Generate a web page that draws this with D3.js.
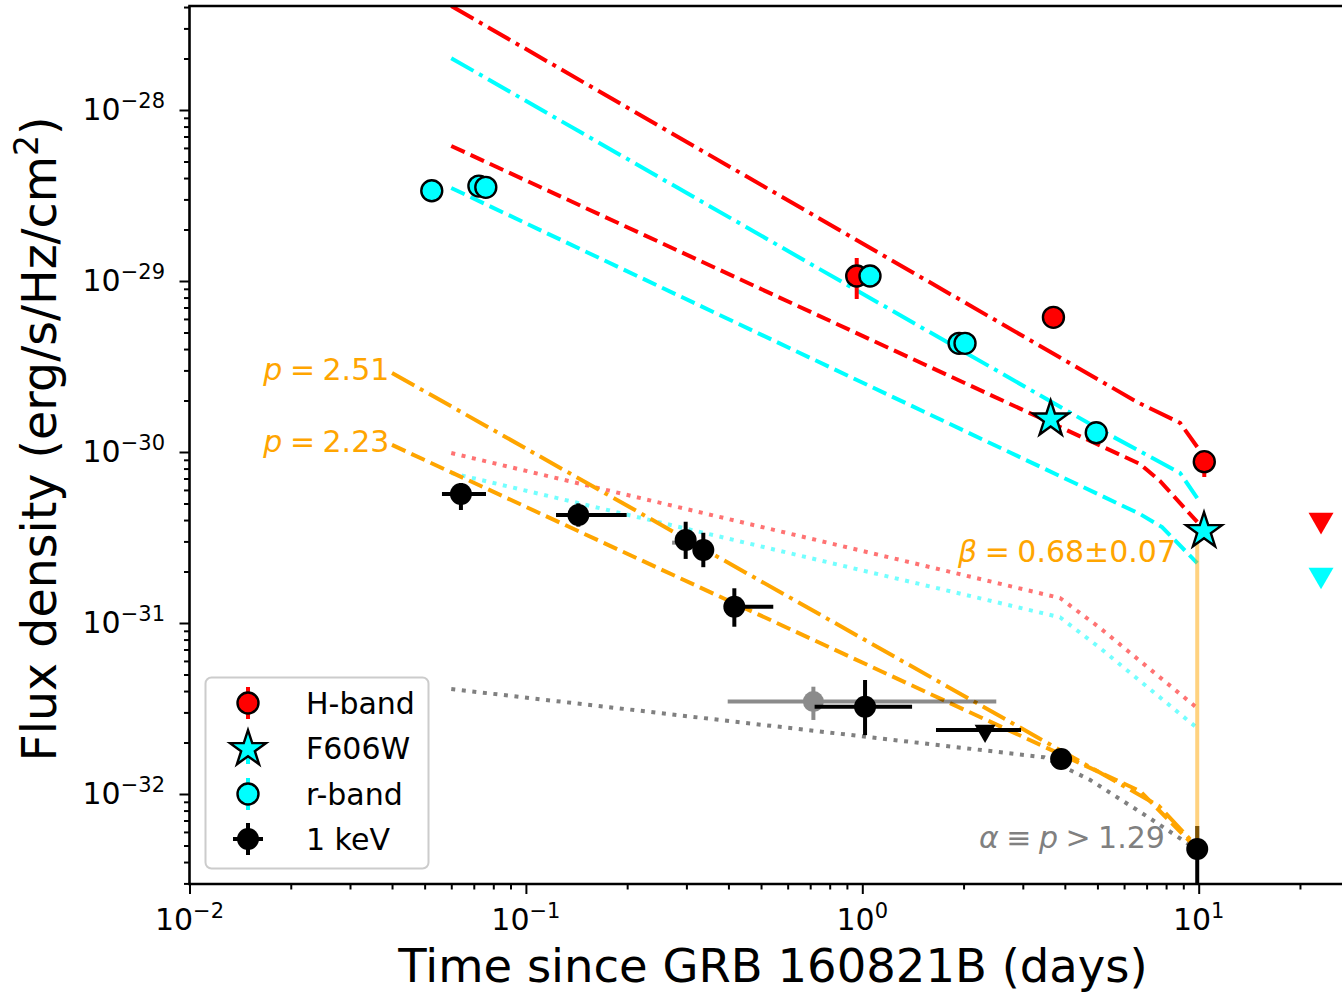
<!DOCTYPE html>
<html><head><meta charset="utf-8">
<script src="https://cdn.jsdelivr.net/npm/d3@7"></script>
<style>
body{margin:0;background:#fff}
svg{display:block}
text{font-family:"DejaVu Sans",sans-serif}
</style>
</head><body><svg id="c" width="1342" height="994"></svg>
<script>
// ---------------- data ----------------
const xTickExps = [-2, -1, 0, 1];
const yTickExps = [-28, -29, -30, -31, -32];
const legendLabels = ["H-band", "F606W", "r-band", "1 keV"];

// H-band detections
const hBandT   = [0.9625, 3.70, 10.39];
const hBandF   = [1.07e-29, 6.13e-30, 8.78e-31];
const hBandFLo = [7.85e-30, null, 7.14e-31];
const hBandFHi = [1.363e-29, null, 1.0e-30];
// H-band upper limit
const hLimT = [23.1];
const hLimF = [4.0e-31];

// F606W
const f606wT = [3.63, 10.37];
const f606wF = [1.574e-30, 3.50e-31];

// r-band
const rBandT = [0.0525, 0.0725, 0.0760, 1.054, 1.94, 2.02, 4.96];
const rBandF = [3.37e-29, 3.59e-29, 3.53e-29, 1.07e-29, 4.32e-30, 4.32e-30, 1.297e-30];
const rLimT = [23.1];
const rLimF = [1.91e-31];

// 1 keV X-ray
const xrT   = [0.0641, 0.1432, 0.2985, 0.3368, 0.4165, 1.019, 3.90, 9.9];
const xrF   = [5.68e-31, 4.28e-31, 3.06e-31, 2.67e-31, 1.245e-31, 3.24e-32, 1.602e-32, 4.77e-33];
const xrTLo = [0.0563, 0.1229, 0.2794, 0.325, 0.3908, 0.7215, 3.90, 9.9];
const xrTHi = [0.0761, 0.1993, 0.318, 0.348, 0.5437, 1.406, 3.90, 9.9];
const xrFLo = [4.58e-31, 3.66e-31, 2.37e-31, 2.12e-31, 9.51e-32, 2.21e-32, 1.602e-32, 1e-33];
const xrFHi = [6.59e-31, 5.01e-31, 3.91e-31, 3.37e-31, 1.596e-31, 4.64e-32, 1.602e-32, 6.50e-33];
// X-ray upper limit
const xrLimT = [2.317], xrLimF = [2.37e-32], xrLimTLo = [1.656], xrLimTHi = [2.964];
// faded (grey) X-ray points
const xgT = [0.7155, 0.29], xgF = [3.47e-32, 2.95e-31];
const xgTLo = [0.398, 0.272], xgTHi = [2.502, 0.305];
const xgFLo = [2.71e-32, 2.95e-31], xgFHi = [4.24e-32, 2.95e-31];

// model curves
const mHdashdotT = [0.06, 6.56, 8.80, 9.9];
const mHdashdotF = [4.06e-28, 1.96e-30, 1.48e-30, 1.07e-30];
const mRdashdotT = [0.06, 5.09, 8.80, 9.9];
const mRdashdotF = [2.01e-28, 1.35e-30, 7.54e-31, 5.38e-31];
const mHdashT = [0.06, 6.69, 7.67, 9.9];
const mHdashF = [6.16e-29, 8.51e-31, 6.77e-31, 3.90e-31];
const mRdashT = [0.06, 6.69, 7.78, 9.9];
const mRdashF = [3.50e-29, 4.34e-31, 3.64e-31, 2.24e-31];
const mHdotT = [0.06, 3.87, 5.09, 9.9];
const mHdotF = [9.86e-31, 1.40e-31, 9.35e-32, 3.18e-32];
const mRdotT = [0.06, 3.87, 5.09, 9.9];
const mRdotF = [7.54e-31, 1.08e-31, 7.14e-32, 2.43e-32];
const mXdotT = [0.06, 3.47, 4.75, 7.04, 9.42];
const mXdotF = [4.11e-32, 1.64e-32, 1.21e-32, 7.37e-33, 5.03e-33];
const mXdashdotT = [0.04, 7.62, 9.9];
const mXdashdotF = [2.90e-30, 8.51e-33, 4.90e-33];
const mXdashT = [0.04, 6.69, 9.9];
const mXdashF = [1.10e-30, 1.041e-32, 4.77e-33];
// spectral-index connector
const betaT = [9.9, 9.9];
const betaF = [3.50e-31, 4.77e-33];

// annotations
const annP1 = {t: 0.039, f: 2.90e-30, p: "2.51"};
const annP2 = {t: 0.039, f: 1.10e-30, p: "2.23"};

// ---------------- chart ----------------
const RED = "#ff0000", CYAN = "#00ffff", ORANGE = "#ffa500", GREY = "#808080";
const svg = d3.select("#c");
const x = d3.scaleLog().domain([1e-2, 10]).range([189.5, 1198.7]);
const y = d3.scaleLog().domain([1e-32, 1e-28]).range([794, 110]);
const plotTop = 6, plotBot = 884, plotL = 189.5, plotR = 1400;
const MR = 10.5, MSW = 2.4;

svg.append("defs").append("clipPath").attr("id", "clip")
  .append("rect").attr("x", plotL).attr("y", plotTop).attr("width", plotR - plotL).attr("height", plotBot - plotTop);

const plot = svg.append("g").attr("clip-path", "url(#clip)");
const zip = (T, F) => T.map((t, i) => [t, F[i]]);
const line = d3.line().x(d => x(d[0])).y(d => y(d[1]));

const DASH = "14.8,6.4", DASHDOT = "25.6,6.4,4,6.4", DOT = "4,6.6";
function model(T, F, color, dash, op) {
  plot.append("path").attr("d", line(zip(T, F))).attr("fill", "none")
    .attr("stroke", color).attr("stroke-width", 4).attr("stroke-dasharray", dash)
    .attr("opacity", op || 1);
}
model(mHdashdotT, mHdashdotF, RED, DASHDOT);
model(mRdashdotT, mRdashdotF, CYAN, DASHDOT);
model(mHdashT, mHdashF, RED, DASH);
model(mRdashT, mRdashF, CYAN, DASH);
model(mHdotT, mHdotF, RED, DOT, 0.55);
model(mRdotT, mRdotF, CYAN, DOT, 0.55);
model(mXdotT, mXdotF, GREY, DOT);
model(mXdashdotT, mXdashdotF, ORANGE, DASHDOT);
model(mXdashT, mXdashF, ORANGE, DASH);

// grey faded X-ray points
xgT.forEach((t, i) => {
  const g = plot.append("g").attr("opacity", 0.45);
  g.append("line").attr("x1", x(xgTLo[i])).attr("x2", x(xgTHi[i])).attr("y1", y(xgF[i])).attr("y2", y(xgF[i]))
    .attr("stroke", "#000").attr("stroke-width", 4);
  g.append("line").attr("x1", x(t)).attr("x2", x(t)).attr("y1", y(xgFLo[i])).attr("y2", y(xgFHi[i]))
    .attr("stroke", "#000").attr("stroke-width", 4);
  if (i === 0) g.append("circle").attr("cx", x(t)).attr("cy", y(xgF[i])).attr("r", MR).attr("fill", "#000");
});

// X-ray error bars
xrT.forEach((t, i) => {
  plot.append("line").attr("x1", x(xrTLo[i])).attr("x2", x(xrTHi[i])).attr("y1", y(xrF[i])).attr("y2", y(xrF[i]))
    .attr("stroke", "#000").attr("stroke-width", 4);
  plot.append("line").attr("x1", x(t)).attr("x2", x(t)).attr("y1", y(xrFLo[i])).attr("y2", y(xrFHi[i]))
    .attr("stroke", "#000").attr("stroke-width", 4);
});
xrLimT.forEach((t, i) => {
  plot.append("line").attr("x1", x(xrLimTLo[i])).attr("x2", x(xrLimTHi[i])).attr("y1", y(xrLimF[i])).attr("y2", y(xrLimF[i]))
    .attr("stroke", "#000").attr("stroke-width", 4);
});

// beta connector (translucent orange)
plot.append("path").attr("d", line(zip(betaT, betaF))).attr("stroke", ORANGE).attr("stroke-width", 4)
  .attr("opacity", 0.5).attr("fill", "none");

// X-ray markers
xrT.forEach((t, i) => {
  plot.append("circle").attr("cx", x(t)).attr("cy", y(xrF[i])).attr("r", MR + 0.5).attr("fill", "#000");
});
const tri = d3.symbol().type(d3.symbolTriangle);
xrLimT.forEach((t, i) => {
  plot.append("path").attr("d", tri.size(190)()).attr("fill", "#000")
    .attr("transform", `translate(${x(t)},${y(xrLimF[i]) + 1}) rotate(180)`);
});

// H-band error bars + markers
hBandT.forEach((t, i) => {
  if (hBandFLo[i] !== null)
    plot.append("line").attr("x1", x(t)).attr("x2", x(t)).attr("y1", y(hBandFLo[i])).attr("y2", y(hBandFHi[i]))
      .attr("stroke", RED).attr("stroke-width", 4);
});
hBandT.forEach((t, i) => {
  plot.append("circle").attr("cx", x(t)).attr("cy", y(hBandF[i])).attr("r", MR)
    .attr("fill", RED).attr("stroke", "#000").attr("stroke-width", MSW);
});
// r-band markers
rBandT.forEach((t, i) => {
  plot.append("circle").attr("cx", x(t)).attr("cy", y(rBandF[i])).attr("r", MR)
    .attr("fill", CYAN).attr("stroke", "#000").attr("stroke-width", MSW);
});
// F606W stars
const star = d3.symbol().type(d3.symbolStar);
f606wT.forEach((t, i) => {
  plot.append("path").attr("d", star.size(400)()).attr("fill", CYAN).attr("stroke", "#000").attr("stroke-width", MSW)
    .attr("transform", `translate(${x(t)},${y(f606wF[i]) + 1})`);
});
// optical/NIR upper limits
hLimT.forEach((t, i) => {
  plot.append("path").attr("d", tri.size(270)()).attr("fill", RED)
    .attr("transform", `translate(${x(t)},${y(hLimF[i])}) rotate(180)`);
});
rLimT.forEach((t, i) => {
  plot.append("path").attr("d", tri.size(270)()).attr("fill", CYAN)
    .attr("transform", `translate(${x(t)},${y(rLimF[i])}) rotate(180)`);
});

// ---------------- axes ----------------
const axG = svg.append("g");
const xMajor = xTickExps.map(e => Math.pow(10, e));
const xMinor = [];
xTickExps.forEach(e => { for (let k = 2; k <= 9; k++) xMinor.push(k * Math.pow(10, e)); });
const yMajor = yTickExps.map(e => Math.pow(10, e));
const yMinor = [];
[-33, -32, -31, -30, -29, -28].forEach(e => { for (let k = 2; k <= 9; k++) yMinor.push(k * Math.pow(10, e)); });
const yMinorIn = yMinor.filter(v => y(v) >= plotTop && y(v) <= plotBot);
const xMinorIn = xMinor.filter(v => x(v) >= plotL && x(v) <= 1342);

const bx = axG.append("g").attr("transform", `translate(0,${plotBot})`);
bx.call(d3.axisBottom(x).tickValues(xMajor).tickSize(10).tickFormat(""));
bx.append("g").call(d3.axisBottom(x).tickValues(xMinorIn).tickSize(5.5).tickFormat(""));
const ly = axG.append("g").attr("transform", `translate(${plotL},0)`);
ly.call(d3.axisLeft(y).tickValues(yMajor).tickSize(10).tickFormat(""));
ly.append("g").call(d3.axisLeft(y).tickValues(yMinorIn).tickSize(5.5).tickFormat(""));
axG.selectAll(".domain").remove();
axG.selectAll(".tick line").attr("stroke", "#000").attr("stroke-width", 2);

// spines
axG.append("line").attr("x1", plotL).attr("x2", plotL).attr("y1", plotTop).attr("y2", plotBot).attr("stroke", "#000").attr("stroke-width", 2.6);
axG.append("line").attr("x1", plotL - 1.3).attr("x2", 1342).attr("y1", plotBot).attr("y2", plotBot).attr("stroke", "#000").attr("stroke-width", 2.6);
axG.append("line").attr("x1", plotL - 1.3).attr("x2", 1342).attr("y1", plotTop).attr("y2", plotTop).attr("stroke", "#000").attr("stroke-width", 2.6);

// tick labels
const sup = e => (e < 0 ? "\u2212" + Math.abs(e) : "" + e);
xTickExps.forEach(e => {
  const t = axG.append("text").attr("x", x(Math.pow(10, e))).attr("y", 930).attr("text-anchor", "middle")
    .attr("font-size", 30).attr("fill", "#000");
  t.append("tspan").text("10");
  t.append("tspan").attr("dy", -12).attr("font-size", 21).text(sup(e));
});
yTickExps.forEach(e => {
  const yy = y(Math.pow(10, e));
  const t = axG.append("text").attr("x", 165).attr("y", yy + 10).attr("text-anchor", "end")
    .attr("font-size", 30).attr("fill", "#000");
  t.append("tspan").text("10");
  t.append("tspan").attr("dy", -12).attr("font-size", 21).text(sup(e));
});

// axis titles
svg.append("text").attr("x", 773).attr("y", 982).attr("text-anchor", "middle").attr("font-size", 46.5)
  .text("Time since GRB 160821B (days)");
const yl = svg.append("text").attr("transform", "translate(56,439) rotate(-90)").attr("text-anchor", "middle")
  .attr("font-size", 47.5);
yl.append("tspan").text("Flux density (erg/s/Hz/cm");
yl.append("tspan").attr("dy", -18).attr("font-size", 33).text("2");
yl.append("tspan").attr("dy", 18).text(")");

// annotations
function pLabel(a) {
  const t = svg.append("text").attr("x", x(a.t) + 1).attr("y", y(a.f) + 7).attr("text-anchor", "end")
    .attr("font-size", 30).attr("fill", ORANGE);
  t.append("tspan").attr("font-style", "italic").text("p");
  t.append("tspan").text("\u2005=\u20052.51".replace("2.51", a.p));
}
pLabel(annP1);
pLabel(annP2);
const bt = svg.append("text").attr("x", 958).attr("y", 562).attr("font-size", 30).attr("fill", ORANGE);
bt.append("tspan").attr("font-style", "italic").text("\u03b2");
bt.append("tspan").text("\u2005=\u20050.68\u00b10.07");
const at = svg.append("text").attr("x", 979).attr("y", 848).attr("font-size", 30).attr("fill", GREY);
at.append("tspan").attr("font-style", "italic").text("\u03b1");
at.append("tspan").text("\u2005\u2261\u2005");
at.append("tspan").attr("font-style", "italic").text("p");
at.append("tspan").text("\u2005>\u20051.29");

// ---------------- legend ----------------
const lg = svg.append("g");
lg.append("rect").attr("x", 205.5).attr("y", 677.5).attr("width", 223).attr("height", 191).attr("rx", 6)
  .attr("fill", "#fff").attr("fill-opacity", 0.8).attr("stroke", "#cccccc").attr("stroke-width", 2);
const rowY = [703, 748, 794, 839];
const mx = 248;
// H-band
lg.append("line").attr("x1", mx).attr("x2", mx).attr("y1", rowY[0] - 16).attr("y2", rowY[0] + 16).attr("stroke", RED).attr("stroke-width", 4);
lg.append("circle").attr("cx", mx).attr("cy", rowY[0]).attr("r", MR).attr("fill", RED).attr("stroke", "#000").attr("stroke-width", MSW);
// F606W
lg.append("line").attr("x1", mx).attr("x2", mx).attr("y1", rowY[1] - 16).attr("y2", rowY[1] + 16).attr("stroke", CYAN).attr("stroke-width", 4);
lg.append("path").attr("d", star.size(400)()).attr("fill", CYAN).attr("stroke", "#000").attr("stroke-width", MSW)
  .attr("transform", `translate(${mx},${rowY[1] + 1})`);
// r-band
lg.append("line").attr("x1", mx).attr("x2", mx).attr("y1", rowY[2] - 16).attr("y2", rowY[2] + 16).attr("stroke", CYAN).attr("stroke-width", 4);
lg.append("circle").attr("cx", mx).attr("cy", rowY[2]).attr("r", MR).attr("fill", CYAN).attr("stroke", "#000").attr("stroke-width", MSW);
// 1 keV
lg.append("line").attr("x1", mx).attr("x2", mx).attr("y1", rowY[3] - 16).attr("y2", rowY[3] + 16).attr("stroke", "#000").attr("stroke-width", 4);
lg.append("line").attr("x1", mx - 15).attr("x2", mx + 15).attr("y1", rowY[3]).attr("y2", rowY[3]).attr("stroke", "#000").attr("stroke-width", 4);
lg.append("circle").attr("cx", mx).attr("cy", rowY[3]).attr("r", MR + 0.5).attr("fill", "#000");
legendLabels.forEach((s, i) => {
  lg.append("text").attr("x", 306).attr("y", rowY[i] + 11).attr("font-size", 30).text(s);
});
</script>
</body></html>
